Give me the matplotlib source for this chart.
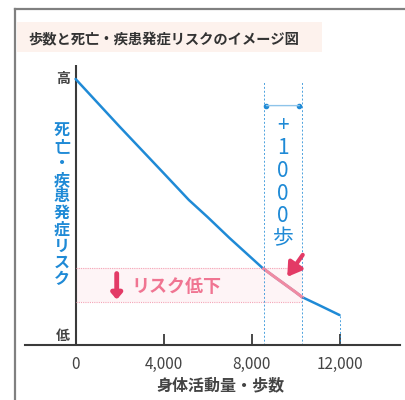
import numpy as np
import matplotlib
matplotlib.use("Agg")
from matplotlib import pyplot as plt
from matplotlib.lines import Line2D
from matplotlib.patches import Rectangle

plt.rcParams['font.family'] = ['Noto Sans CJK JP', 'DejaVu Sans']

# data (image chart, risk in arbitrary units 0-100)
steps = [0, 2000, 4000, 5150, 6000, 7000, 8500, 9000, 10000, 10300, 11000, 12000]
risk = [95, 78, 61.4, 51.8, 45.7, 38.2, 27.5, 24.6, 18.9, 17.1, 14.5, 10.7]
xticks = [0, 4000, 8000, 12000]
xticklabels = ['0', '4,000', '8,000', '12,000']
step_from, step_to = 8550, 10300
band_lo, band_hi = 15.5, 27.5

title = "歩数と死亡・疾患発症リスクのイメージ図"
ylabel = "死亡・疾患発症リスク"
xlabel = "身体活動量・歩数"
plus_label = "+1000歩"

blue = '#1f8ad6'
pink = '#e33a66'
grey = '#3a3a3a'

W, H = 406, 400
fig = plt.figure(figsize=(4.06, 4.00), dpi=100)

def fx(px):
    return px / W

def fy(py):
    return 1 - py / H

# frame and title band
fig.add_artist(Line2D([fx(15), fx(15)], [fy(9), 0], color='#808080', lw=1.6))
fig.add_artist(Line2D([fx(15), 1], [fy(9), fy(9)], color='#808080', lw=1.6))
fig.add_artist(Rectangle((fx(17), fy(52)), fx(322) - fx(17), fy(22) - fy(52),
                         color='#fdf2ed', lw=0))
fig.text(fx(28), fy(40), title, fontsize=10.3, fontweight='bold', color='#333333',
         va='center', ha='left')

ax = fig.add_axes([fx(25), fy(345), fx(400) - fx(25), fy(65) - fy(345)])
ax.set_xlim(-2300, 14750)
ax.set_ylim(0, 100)
for s in ['left', 'right', 'top']:
    ax.spines[s].set_visible(False)
ax.spines['bottom'].set_color(grey)
ax.spines['bottom'].set_linewidth(1.5)
ax.set_yticks([])
ax.set_xticks(xticks)
ax.set_xticklabels(xticklabels, fontsize=11, color='#444444')
ax.tick_params(axis='x', direction='in', length=8, width=1.3, color=grey, pad=8)
ax.plot([0, 0], [0, 100], color=grey, lw=1.5, solid_capstyle='butt')

# band of risk reduction
ax.fill_between([0, step_to], band_lo, band_hi, color='#fef4f6', lw=0)
ax.plot([0, step_to], [band_hi, band_hi], color='#f4a3b5', lw=0.8, ls=(0, (1, 1)))
ax.plot([0, step_to], [band_lo, band_lo], color='#f4a3b5', lw=0.8, ls=(0, (1, 1)))

# curve
ax.plot(steps, risk, color=blue, lw=1.8, solid_capstyle='round')
xs = np.array(steps, dtype=float)
ys = np.array(risk, dtype=float)
seg_x = [step_from] + [s for s in steps if step_from < s < step_to] + [step_to]
seg_y = np.interp(seg_x, xs, ys)
ax.plot(seg_x, seg_y, color='#f08aa2', lw=2.2)

# dashed guides
for sx in [step_from, step_to]:
    ax.plot([sx, sx], [0, 94], color=blue, lw=0.7, ls=(0, (2, 2)), alpha=0.8)
ax.plot([12000, 12000], [0, risk[-1]], color=blue, lw=0.7, ls=(0, (2, 2)), alpha=0.8)
ax.annotate('', xy=(step_from, 85.5), xytext=(step_to, 85.5),
            arrowprops=dict(arrowstyle='-', color='#8ec4ea', lw=1.0))
ax.plot([step_from + 120, step_to - 120], [85.5, 85.5], 'o', color=blue, ms=3)

# +1000 steps text, stacked vertically
px_mid = (step_from + step_to) / 2
for i, ch in enumerate(plus_label):
    ax.text(px_mid, (345 - (126 + 22.5 * i)) / 2.8, ch, fontsize=15, color=blue,
            ha='center', va='center')

# pink arrows
ax.annotate('', xy=(9550, 23.5), xytext=(10400, 33),
            arrowprops=dict(arrowstyle='-|>,head_length=0.8,head_width=0.5',
                            color=pink, lw=3))
ax.annotate('', xy=(1870, 15.2), xytext=(1870, 26.5),
            arrowprops=dict(arrowstyle='-|>,head_length=0.35,head_width=0.3',
                            color=pink, lw=3.5))
ax.text(2550, 20.9, "リスク低下", fontsize=13, fontweight='bold', color='#f07592',
        ha='left', va='center')

# y-axis labels
fig.text(fx(63), fy(79), "高", fontsize=10, color='#444444', ha='center', va='center',
         fontweight='bold')
fig.text(fx(63), fy(336), "低", fontsize=10, color='#444444', ha='center', va='center',
         fontweight='bold')
for i, ch in enumerate(ylabel):
    fig.text(fx(62), fy(130 + 16.6 * i), ch, fontsize=11.5, color=blue,
             ha='center', va='center', fontweight='bold')

fig.text(fx(220), fy(385), xlabel, fontsize=11.5, color='#444444', ha='center',
         va='center', fontweight='bold')

fig.savefig("out.png", dpi=100)
